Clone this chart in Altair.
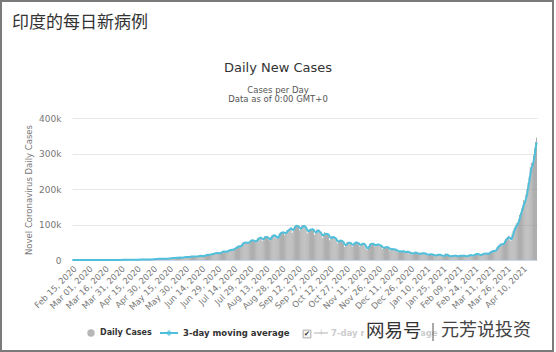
import altair as alt
import pandas as pd

# ---- data (daily new cases, India) ----
feb_2020 = [0, 0, 0, 0, 0, 0, 0, 0, 0, 0, 0, 0, 0, 0, 0]
mar_2020 = [0, 2, 1, 22, 2, 1, 3, 5, 9, 15, 8, 5, 11, 10, 26, 11, 15, 28, 22, 58,
            78, 69, 94, 74, 86, 73, 153, 136, 120, 187, 309]
apr_2020 = [424, 486, 560, 579, 609, 484, 573, 565, 813, 871, 854, 758, 1243, 1031, 886,
            1061, 922, 1371, 1580, 1239, 1537, 1292, 1667, 1408, 1835, 1607, 1568, 1902, 1705, 1801]
may_2020 = [2396, 2564, 2952, 3656, 2971, 3602, 3344, 3339, 3175, 4311, 3592, 3562, 3726, 3967,
            3970, 4987, 5242, 4630, 6147, 5553, 6198, 6568, 6654, 6767, 6977, 6535, 6387, 7466,
            7964, 8380, 8789]
jun_2020 = [8392, 8171, 9633, 9889, 9471, 9887, 9971, 9983, 9987, 9985, 10956, 11458, 11929,
            11502, 10667, 10974, 12881, 13586, 14516, 15413, 14821, 14933, 15968, 16922, 17296,
            18552, 19906, 19620, 19459, 18522]
jul_2020 = [19148, 20903, 22771, 24850, 24248, 22252, 22752, 24879, 26506, 27114, 28637, 28701,
            28498, 29429, 32695, 34956, 34884, 38902, 40425, 37148, 37724, 45720, 49310, 48916,
            48661, 49931, 47704, 48513, 52123, 55078, 57118]
aug_2020 = [54735, 52972, 52050, 52509, 56282, 62538, 61537, 64399, 62064, 53601, 60963, 66999,
            64553, 65002, 63490, 57981, 55079, 64531, 69652, 68898, 69878, 69239, 61408, 60975,
            67151, 75760, 77266, 76472, 78761, 78512, 69921]
sep_2020 = [78357, 83883, 83341, 86432, 90632, 90802, 75809, 89706, 95735, 96551, 97570, 94372,
            92071, 83809, 90123, 97894, 96424, 93337, 92605, 86961, 75083, 83347, 86508, 86052,
            85362, 88600, 82170, 70589, 80472, 86821]
oct_2020 = [81484, 79476, 75829, 74442, 61267, 72049, 78524, 70496, 73272, 74383, 66732, 55342,
            63509, 67708, 63371, 62212, 61871, 55722, 46790, 54044, 55839, 54366, 53370, 50129,
            45149, 36469, 43893, 49881, 48648, 48268, 46963]
nov_2020 = [45231, 38310, 46254, 50209, 47638, 50357, 45674, 45903, 38074, 44281, 47905, 44879,
            44878, 41100, 30548, 29164, 38617, 45576, 45882, 46232, 45209, 44059, 37975, 44376,
            44489, 43082, 41322, 41810, 38772, 31118]
dec_2020 = [36604, 35551, 36595, 36652, 36011, 32981, 26567, 32080, 31522, 29398, 30006, 30254,
            27071, 22065, 26382, 24010, 22890, 25153, 25152, 24337, 19556, 23950, 24712, 23068,
            18732, 22273, 18732, 16432, 20549, 21822, 20036]
jan_2021 = [19079, 18177, 18177, 16504, 18088, 20346, 18139, 18222, 18645, 16311, 12584, 15968,
            16946, 15590, 15158, 15144, 13788, 10064, 13823, 15223, 14545, 14256, 14849, 13203,
            9102, 12689, 11666, 18855, 13083, 13052, 11427]
feb_2021 = [8635, 11039, 12899, 11024, 12408, 11713, 12059, 9110, 11067, 12923, 11610, 12143,
            11649, 12194, 11831, 9121, 11610, 12881, 13193, 13993, 14264, 10584, 13742, 16738,
            16577, 16488, 16752, 15510]
mar_2021 = [12286, 14989, 17407, 16838, 18327, 18711, 18599, 15388, 17921, 22854, 23285, 24882,
            25320, 26291, 24492, 28903, 35871, 39726, 40953, 43846, 46951, 40715, 47262, 53476,
            59118, 62258, 62714, 68020, 56211, 53480, 72330]
apr_2021 = [81466, 89129, 93249, 103558, 96982, 115736, 126789, 131968, 145384, 152879, 168912,
            161736, 184372, 200739, 217353, 234692, 261500, 273810, 259170, 295041, 314835,
            332730, 345147]

tick_labels = ["Feb 15, 2020", "Mar 01, 2020", "Mar 16, 2020", "Mar 31, 2020", "Apr 15, 2020",
               "Apr 30, 2020", "May 15, 2020", "May 30, 2020", "Jun 14, 2020", "Jun 29, 2020",
               "Jul 14, 2020", "Jul 29, 2020", "Aug 13, 2020", "Aug 28, 2020", "Sep 12, 2020",
               "Sep 27, 2020", "Oct 12, 2020", "Oct 27, 2020", "Nov 11, 2020", "Nov 26, 2020",
               "Dec 11, 2020", "Dec 26, 2020", "Jan 10, 2021", "Jan 25, 2021", "Feb 09, 2021",
               "Feb 24, 2021", "Mar 11, 2021", "Mar 26, 2021", "Apr 10, 2021"]
y_ticks = [0, 100000, 200000, 300000, 400000]

values = (feb_2020 + mar_2020 + apr_2020 + may_2020 + jun_2020 + jul_2020 + aug_2020 + sep_2020
          + oct_2020 + nov_2020 + dec_2020 + jan_2021 + feb_2021 + mar_2021 + apr_2021)
dates = pd.date_range("2020-02-15", periods=len(values), freq="D")
df = pd.DataFrame({
    "day": [d.strftime("%b %d, %Y") for d in dates],
    "cases": values,
    "i": list(range(len(values))),
})

FONT = "DejaVu Sans"
CJK = "Noto Sans CJK SC"
CYAN = "#4fbfdb"
one = pd.DataFrame({"k": [0]})

x_axis = alt.Axis(values=tick_labels, labelAngle=-45, labelFontSize=8.5,
                  labelColor="#777777", labelFont=FONT, ticks=False,
                  domainColor="#ccd6eb", labelPadding=4, labelOverlap=False,
                  labelBound=False, grid=False, title=None)
y_axis = alt.Axis(values=y_ticks,
                  labelExpr="datum.value == 0 ? '0' : datum.value / 1000 + 'k'",
                  labelFontSize=9, labelColor="#777777", labelFont=FONT,
                  grid=True, gridColor="#e6e6e6", domain=False, ticks=False,
                  labelPadding=11, title=None)
x_scale = alt.Scale(paddingInner=0.28, paddingOuter=0)
y_scale = alt.Scale(domain=[0, 400000], nice=False)

bars = alt.Chart(df).mark_bar(color="#979797").encode(
    x=alt.X("day:O", sort=None, title=None, scale=x_scale, axis=x_axis),
    y=alt.Y("cases:Q", title=None, scale=y_scale, axis=y_axis),
)

line = alt.Chart(df).transform_window(
    ma="mean(cases)", frame=[-2, 0], sort=[alt.SortField("i")]
).mark_line(color=CYAN, strokeWidth=2).encode(
    x=alt.X("day:O", sort=None, bandPosition=0.5, title=None, scale=x_scale, axis=x_axis),
    y=alt.Y("ma:Q", title=None, scale=y_scale, axis=y_axis),
    order=alt.Order("i:Q"),
)


def txt(s, x, y, size, color="#333333", weight="normal", align="left", font=FONT, angle=0):
    kw = dict(text=s, fontSize=size, color=color, fontWeight=weight, align=align,
              baseline="middle", font=font)
    if angle:
        kw["angle"] = angle
    return alt.Chart(one).mark_text(**kw).encode(x=alt.value(x), y=alt.value(y))


OX, OY = 72, 118  # plot origin in page pixels

layers = [
    bars, line,
    txt("印度的每日新病例", 12 - OX, 23 - OY, 17, "#333333", font=CJK),
    txt("Daily New Cases", 278 - OX, 68 - OY, 13, "#333333", align="center"),
    txt("Cases per Day", 278 - OX, 90 - OY, 8.5, "#555555", align="center"),
    txt("Data as of 0:00 GMT+0", 278 - OX, 99 - OY, 8.5, "#555555", align="center"),
    txt("Novel Coronavirus Daily Cases", 29 - OX, 190 - OY, 8.5, "#777777",
        align="center", angle=270),
    # legend
    alt.Chart(one).mark_point(filled=True, shape="circle", size=55, color="#999999").encode(
        x=alt.value(91 - OX), y=alt.value(333 - OY)),
    txt("Daily Cases", 100 - OX, 333 - OY, 8, "#333333", weight="bold"),
    alt.Chart(one).mark_rule(color=CYAN, strokeWidth=2).encode(
        x=alt.value(160 - OX), x2=alt.value(178 - OX), y=alt.value(333 - OY)),
    alt.Chart(one).mark_point(filled=True, shape="diamond", size=40, color=CYAN).encode(
        x=alt.value(169 - OX), y=alt.value(333 - OY)),
    txt("3-day moving average", 183 - OX, 333 - OY, 8.5, "#333333", weight="bold"),
    alt.Chart(one).mark_point(filled=True, shape="square", size=60, color="#f4f4f4",
                              stroke="#888888", strokeWidth=1).encode(
        x=alt.value(307 - OX), y=alt.value(334 - OY)),
    txt("✔", 307 - OX, 334 - OY, 7, "#333333", align="center"),
    alt.Chart(one).mark_rule(color="#cccccc", strokeWidth=1.5).encode(
        x=alt.value(314 - OX), x2=alt.value(328 - OX), y=alt.value(333 - OY)),
    txt("+", 321 - OX, 333 - OY, 8, "#cccccc", align="center"),
    txt("7-day moving average", 331 - OX, 333 - OY, 8.5, "#cccccc", weight="bold"),
    # watermark over the legend
    alt.Chart(one).mark_rect(color="white").encode(
        x=alt.value(364 - OX), x2=alt.value(421 - OX), y=alt.value(322 - OY), y2=alt.value(343 - OY)),
    txt("网易号", 366 - OX, 331 - OY, 18.5, "#333333", font=CJK),
    alt.Chart(one).mark_rule(color="#555555", strokeWidth=1).encode(
        x=alt.value(433 - OX), y=alt.value(323 - OY), y2=alt.value(341 - OY)),
    txt("元芳说投资", 441 - OX, 331 - OY, 18, "#444444", font=CJK),
    # outer frame
    alt.Chart(one).mark_rect(fillOpacity=0, stroke="#7a7a7a", strokeWidth=2).encode(
        x=alt.value(1 - OX), x2=alt.value(553 - OX), y=alt.value(1 - OY), y2=alt.value(351 - OY)),
]

chart = alt.layer(*layers).properties(
    width=465, height=142,
    padding={"left": OX, "top": OY, "right": 556 - OX - 465, "bottom": 352 - OY - 142},
    autosize="none",
).configure_view(stroke=None)

chart.save("out.html", embed_options={"renderer": "svg", "actions": False})
